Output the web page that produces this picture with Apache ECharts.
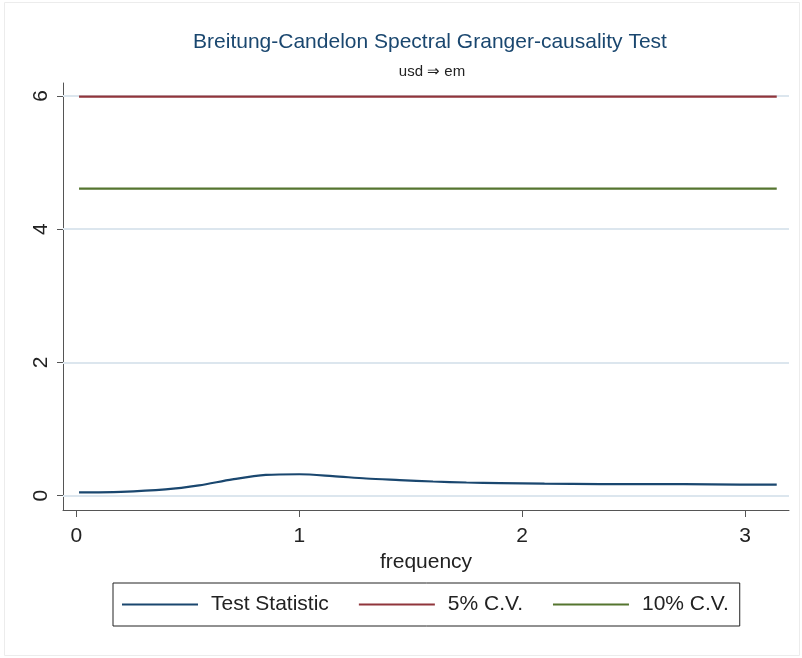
<!DOCTYPE html>
<html>
<head>
<meta charset="utf-8">
<script src="https://cdn.jsdelivr.net/npm/echarts@6/dist/echarts.min.js"></script>
<style>
  html, body { margin: 0; padding: 0; background: #fff; }
  #container { width: 802px; height: 658px; }
</style>
</head>
<body>
<div id="container"></div>
<script>
// frequency grid and spectral test statistic
var freq = [0.012, 0.2, 0.4, 0.55, 0.7, 0.85, 1.0, 1.15, 1.3, 1.45, 1.6, 1.75, 1.9, 2.1, 2.35, 2.6, 2.85, 3.142];
var testStat = [0.051, 0.059, 0.095, 0.155, 0.245, 0.312, 0.322, 0.295, 0.258, 0.235, 0.213, 0.198, 0.19, 0.18, 0.175, 0.175, 0.17, 0.165];
// critical values (chi2, 2 df)
var cv5 = 5.99;
var cv10 = 4.61;
var xTicks = [0, 1, 2, 3];
var yTicks = [0, 2, 4, 6];
var seriesNames = ['Test Statistic', '5% C.V.', '10% C.V.'];
var colors = ['#1a476f', '#90353b', '#55752f'];

var fontFam = '"Liberation Sans", Arial, sans-serif';

function pairs(xs, ys) {
    var out = [];
    for (var i = 0; i < xs.length; i++) out.push([xs[i], ys[i]]);
    return out;
}
var xFirst = freq[0], xLast = freq[freq.length - 1];

var charts = echarts.init(document.getElementById('container'));
var option = {
    backgroundColor: '#ffffff',
    animation: false,
    color: colors,
    title: [{
        text: 'Breitung-Candelon Spectral Granger-causality Test',
        left: 425,
        top: 27,
        textAlign: 'center',
        textStyle: { color: '#1a476f', fontSize: 21, fontWeight: 'normal', fontFamily: fontFam }
    }, {
        text: 'usd \u21d2 em',
        left: 427,
        top: 59,
        textAlign: 'center',
        textStyle: { color: '#222', fontSize: 15, fontWeight: 'normal', fontFamily: fontFam }
    }],
    graphic: [{
        type: 'rect',
        shape: { x: 4.5, y: 2.5, width: 795, height: 653 },
        style: { fill: 'none', stroke: '#ececec', lineWidth: 1 },
        silent: true
    }],
    legend: {
        left: 113,
        top: 583,
        orient: 'horizontal',
        icon: 'rect',
        itemWidth: 76,
        itemHeight: 2,
        itemGap: 30,
        padding: [11, 11, 11, 9],
        borderColor: '#222',
        borderWidth: 1,
        textStyle: { fontSize: 21, color: '#222', fontFamily: fontFam, padding: [0, 0, 0, 8] },
        data: seriesNames
    },
    grid: { left: 63, right: 13, top: 83, bottom: 148 },
    xAxis: {
        type: 'value',
        min: -0.06,
        max: 3.197,
        name: 'frequency',
        nameLocation: 'middle',
        nameGap: 35,
        nameTextStyle: { fontSize: 21, color: '#222', fontFamily: fontFam },
        axisLine: { onZero: false, lineStyle: { color: '#555', width: 1 } },
        axisTick: { show: true, length: 7, customValues: xTicks, lineStyle: { color: '#555' } },
        axisLabel: { customValues: xTicks, fontSize: 21, color: '#222', margin: 16, fontFamily: fontFam },
        splitLine: { show: false }
    },
    yAxis: {
        type: 'value',
        min: -0.2145,
        max: 6.195,
        axisLine: { show: true, onZero: false, lineStyle: { color: '#555', width: 1 } },
        axisTick: { show: true, length: 6, customValues: yTicks, lineStyle: { color: '#555' } },
        axisLabel: { customValues: yTicks, rotate: 90, fontSize: 21, color: '#222', margin: 11, fontFamily: fontFam },
        splitLine: { show: false }
    },
    series: [{
        // gridlines, kept behind the data
        type: 'line',
        data: [],
        silent: true,
        z: 1,
        markLine: {
            silent: true,
            z: 1,
            symbol: 'none',
            label: { show: false },
            lineStyle: { color: '#dce6ee', width: 2, type: 'solid' },
            data: yTicks.map(function (v) { return { yAxis: v }; })
        }
    }, {
        name: seriesNames[0],
        type: 'line',
        z: 3,
        data: pairs(freq, testStat),
        smooth: 0.3,
        showSymbol: false,
        lineStyle: { color: colors[0], width: 2.2 },
        itemStyle: { color: colors[0] }
    }, {
        name: seriesNames[1],
        type: 'line',
        z: 3,
        data: [[xFirst, cv5], [xLast, cv5]],
        showSymbol: false,
        lineStyle: { color: colors[1], width: 2.2 },
        itemStyle: { color: colors[1] }
    }, {
        name: seriesNames[2],
        type: 'line',
        z: 3,
        data: [[xFirst, cv10], [xLast, cv10]],
        showSymbol: false,
        lineStyle: { color: colors[2], width: 2.2 },
        itemStyle: { color: colors[2] }
    }]
};
charts.setOption(option);
</script>
</body>
</html>
